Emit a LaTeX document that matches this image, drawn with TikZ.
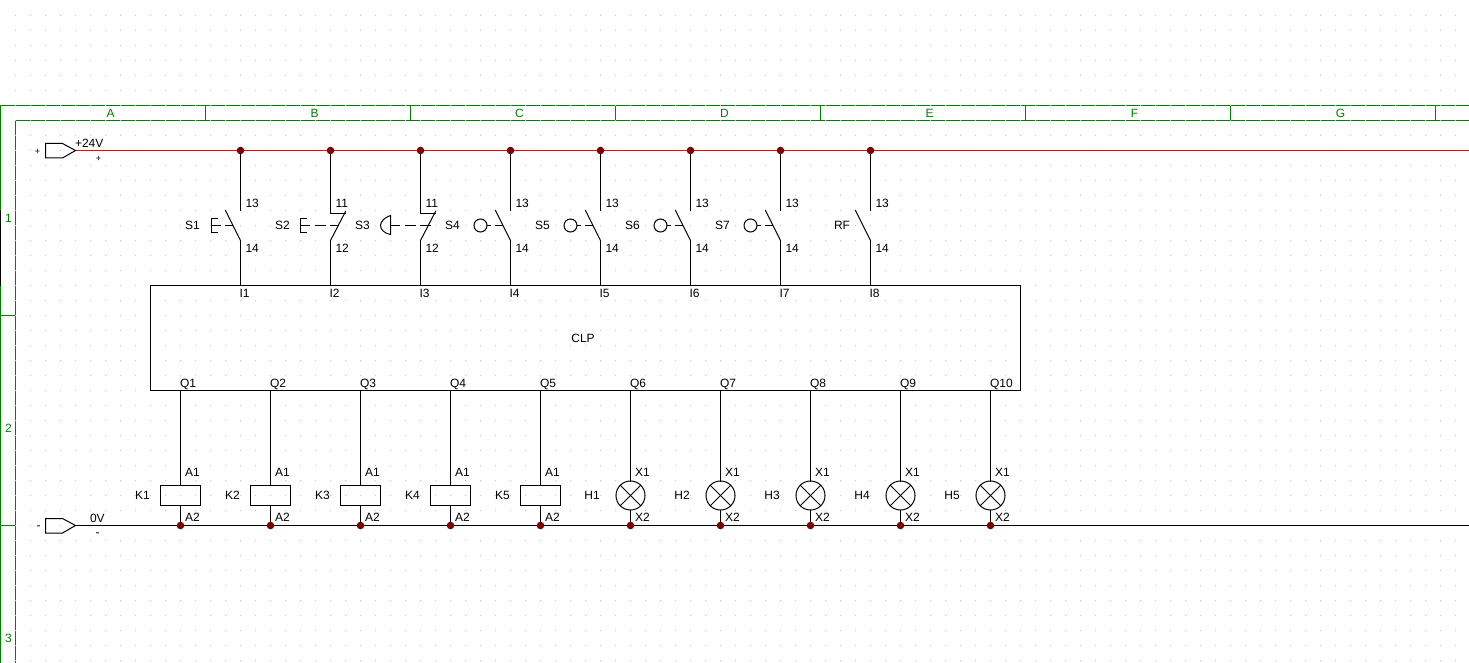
\documentclass[tikz,border=0pt]{standalone}
\usepackage{fontspec}
\setmainfont{Liberation Sans}
\usetikzlibrary{calc}
\definecolor{framegreen}{HTML}{008000}
\definecolor{juncred}{HTML}{7F0000}
\definecolor{griddot}{HTML}{C4C4C4}
\tikzset{
  wire/.style={draw=black,line width=1pt,line cap=rect},
  rail/.style={draw=red,line width=1pt},
  frameline/.style={draw=framegreen,line width=1pt},
  junc/.style={circle,fill=juncred,draw=none,minimum size=7.6pt,inner sep=0pt,outer sep=0pt},
  lbl/.style={font=\fontsize{12}{12}\selectfont,text=black,inner sep=0pt,outer sep=0pt,text height=8.6pt,text depth=0pt},
  pinlbl/.style={lbl,anchor=west},
  framelbl/.style={font=\fontsize{12}{12}\selectfont,text=framegreen,inner sep=0pt,outer sep=0pt,text height=8.6pt,text depth=0pt},
  coil/.style={draw=black,line width=1pt,fill=none,minimum width=40pt,minimum height=20pt,inner sep=0pt,outer sep=0pt},
  lamp/.style={circle,draw=black,line width=1pt,minimum size=29pt,inner sep=0pt,outer sep=0pt},
  plc/.style={draw=black,line width=1pt,minimum width=870pt,minimum height=105pt,inner sep=0pt,outer sep=0pt,font=\fontsize{12}{12}\selectfont},
}
\begin{document}
\begin{tikzpicture}[x=1pt,y=-1pt]
\useasboundingbox (0,0) rectangle (1469,663);
\begin{scope}[shift={(.5,.5)}]
% title block frame
\coordinate (fr) at (1469,105);
\coordinate (fo) at (0,105);
\coordinate (fi) at (15,120);
\draw[frameline] (0,663) -- (fo) -- (fr);
\draw[frameline] (15,663) -- (fi) -- (1469,120);
\foreach \x in {205,410,615,820,1025,1230,1435} \draw[frameline] (\x,105) -- (\x,120);
\draw[frameline] (0,315) -- (15,315);
\draw[frameline] (0,525) -- (15,525);
\draw[black,line width=1pt] (0,210) -- (0,285);
% grid
\fill[griddot] foreach \x in {15,30,...,1455} { foreach \y in {15,30,...,660} { (\x-.5,\y-.5) rectangle +(1,1) } };
\foreach \t/\x in {A/110,B/314,C/519,D/724,E/929,F/1134,G/1340}
  \node[framelbl] (col\t) at (\x,113) {\t};
\foreach \t/\y in {1/218,2/428,3/638}
  \node[framelbl] (row\t) at (8,\y) {\t};
% supply rails
\coordinate (tipP) at (75,150);
\coordinate (tipN) at (75,525);
\coordinate (endP) at (1469,150);
\coordinate (endN) at (1469,525);
\draw[wire] (tipP) -- ++(-13,-7) -- ++(-17,0) -- ++(0,14.5) -- ++(17,0) -- cycle;
\draw[wire] (tipN) -- ++(-13,-7) -- ++(-17,0) -- ++(0,14.5) -- ++(17,0) -- cycle;
\draw[rail] (tipP) -- (endP);
\draw[draw=black,line width=1pt] (tipN) -- (endN);
\node[lbl] (pa) at (37,150) {\fontsize{9}{9}\selectfont +};
\node[pinlbl] (pb) at (74.5,143) {+24V};
\node[lbl] (pc) at (98,157) {\fontsize{9}{9}\selectfont +};
\node[lbl] (na) at (38,525) {-};
\node[pinlbl] (nb) at (89.5,518) {0V};
\node[lbl] (nc) at (97,532) {-};
% PLC
\node[plc] (clp) at (585,337.5) {};
\node[lbl] (clpt) at (582.5,338) {CLP};
% inputs
\foreach \i/\x/\tp/\bt/\nm/\nx in {1/240/13/14/S1/192,2/330/11/12/S2/282,3/420/11/12/S3/362,4/510/13/14/S4/452,5/600/13/14/S5/542,6/690/13/14/S6/632,7/780/13/14/S7/722,8/870/13/14/RF/841.5}{
  \node[junc] (t\i) at (\x,150) {};
  \coordinate (ct\i) at (\x,210);
  \coordinate (cb\i) at (\x,240);
  \coordinate (in\i) at (\x,285);
  \draw[wire] (cb\i) -- (in\i);
  \node[pinlbl] (tn\i) at (\x+5,203) {\tp};
  \node[pinlbl] (bn\i) at (\x+5,247.5) {\bt};
  \node[lbl] (sn\i) at (\nx,225) {\nm};
  \node[pinlbl] (ln\i) at (\x-1,293) {I\i};
}
% normally open contacts
\foreach \i in {1,4,5,6,7,8}{
  \draw[wire] (t\i) -- (ct\i);
  \draw[wire] ($(ct\i)+(-15,0)$) -- (cb\i);
}
% normally closed contacts
\foreach \i in {2,3}{
  \coordinate (cn\i) at ($(ct\i)+(0,3)$);
  \draw[wire] (t\i) -- (cn\i) -- ++(15,0);
  \draw[wire] ($(ct\i)+(15,1)$) -- (cb\i);
}
% actuators
\draw[wire] (217,218) -- (211,218) -- (211,232) -- (217,232) (211,225) -- (220,225) (225,225) -- (232,225);
\draw[wire] (306,218) -- (300,218) -- (300,232) -- (306,232) (300,225) -- (309,225) (315,225) -- (325,225) (330,225) -- (338,225);
\draw[wire] (390,215) .. controls (384,217) and (380,221) .. (380,225) .. controls (380,229) and (384,233) .. (390,234) -- cycle;
\draw[wire] (390,225) -- (399,225) (405,225) -- (415,225) (420,225) -- (430,225);
\foreach \i/\x in {4/480,5/570,6/660,7/750}{
  \node[circle,draw=black,line width=1pt,minimum size=13pt,inner sep=0pt,outer sep=0pt] (pb\i) at (\x,225) {};
  \draw[wire] (pb\i.east) -- ++(3,0);
  \draw[wire] ($(pb\i.east)+(8,0)$) -- ++(7,0);
}
% outputs
\foreach \i/\x in {1/180,2/270,3/360,4/450,5/540,6/630,7/720,8/810,9/900,10/990}{
  \coordinate (q\i) at (\x,390);
  \node[pinlbl] (qn\i) at (\x-.5,383) {Q\i};
  \node[junc] (b\i) at (\x,525) {};
}
\foreach \i/\x in {1/180,2/270,3/360,4/450,5/540}{
  \node[coil] (k\i) at (\x,495) {};
  \draw[wire] (q\i) -- (k\i.north);
  \draw[wire] (k\i.south) -- (b\i);
  \node[pinlbl] (ka\i) at (\x+4.5,472) {A1};
  \node[pinlbl] (kb\i) at (\x+4.5,517) {A2};
  \node[lbl] (kn\i) at (\x-38,495) {K\i};
}
\foreach \n/\i/\x in {1/6/630,2/7/720,3/8/810,4/9/900,5/10/990}{
  \node[lamp] (h\n) at (\x,495) {};
  \draw[wire] (h\n.45) -- (h\n.225);
  \draw[wire] (h\n.135) -- (h\n.315);
  \draw[wire] (q\i) -- (h\n.north);
  \draw[wire] (h\n.south) -- (b\i);
  \node[pinlbl] (xa\n) at (\x+4.5,472) {X1};
  \node[pinlbl] (xb\n) at (\x+4.5,517) {X2};
  \node[lbl] (hn\n) at (\x-38.5,495) {H\n};
}
\end{scope}
\end{tikzpicture}
\end{document}
